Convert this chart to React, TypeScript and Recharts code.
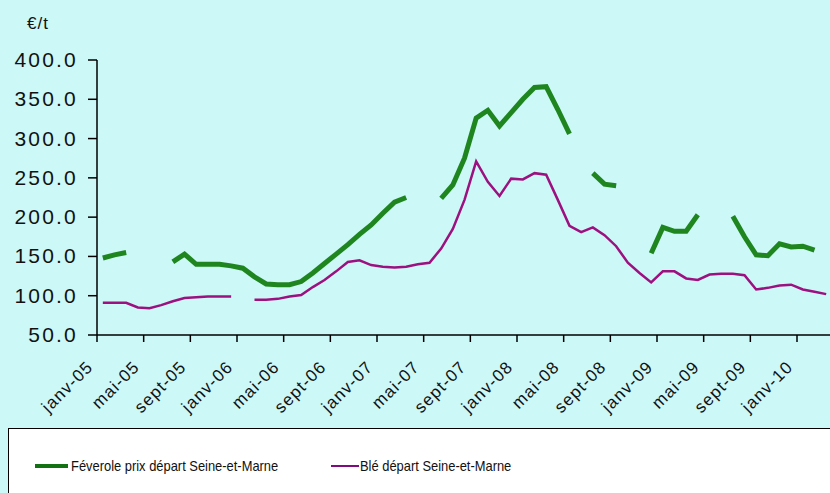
import { LineChart, Line, XAxis, YAxis } from 'recharts';

// mois de janv-05 à mars-10
const monthNames = ['janv', 'févr', 'mars', 'avr', 'mai', 'juin', 'juil', 'août', 'sept', 'oct', 'nov', 'déc'];
const years = ['05', '06', '07', '08', '09', '10'];
const categories = years.flatMap((y) => monthNames.map((m) => `${m}-${y}`)).slice(0, 63);

const tickLabels = [
  'janv-05', 'mai-05', 'sept-05', 'janv-06', 'mai-06', 'sept-06', 'janv-07', 'mai-07',
  'sept-07', 'janv-08', 'mai-08', 'sept-08', 'janv-09', 'mai-09', 'sept-09', 'janv-10',
];
const yTicks = [50, 100, 150, 200, 250, 300, 350, 400];

// €/t, null = pas de cotation
const feverole = [
  148, 152, 155, null, null, null, 143, 153, 140, 140, 140, 138,
  135, 124, 115, 114, 114, 118, 129, 141, 153, 165, 178, 190,
  205, 219, 225, null, null, 224, 241, 275, 326, 336, 316, 333,
  350, 365, 366, 337, 306, null, 256, 242, 240, null, null, 154,
  187, 182, 182, 203, null, null, 201, 175, 152, 151, 166, 162,
  163, 158, null,
];
const ble = [
  91, 91, 91, 85, 84, 88, 93, 97, 98, 99, 99, 99,
  null, 95, 95, 96, 99, 101, 111, 120, 131, 143, 145, 139,
  137, 136, 137, 140, 142, 160, 185, 222, 271, 245, 227, 249,
  248, 256, 254, 222, 189, 181, 187, 177, 163, 142, 129, 117,
  131, 131, 122, 120, 127, 128, 128, 126, 108, 110, 113, 114,
  108, 105, 102,
];

const data = categories.map((month, i) => ({
  month,
  x: i + 0.5,
  feverole: feverole[i],
  ble: ble[i],
}));

const tickPositions = tickLabels.map((_, i) => i * 4);

const BG = '#ccf8f8';
const GREEN = '#1f861f';
const PURPLE = '#9c117f';
const FONT = '"Liberation Sans", Arial, sans-serif';

function XTick(props: any) {
  const { x, y, payload } = props;
  const label = tickLabels[Math.round(payload.value / 4)];
  const tx = x - 3;
  const ty = y + 26;
  return (
    <text
      x={tx}
      y={ty}
      transform={`rotate(-45 ${tx} ${ty})`}
      textAnchor="end"
      fontSize={17}
      letterSpacing={1.2}
      fontFamily={FONT}
      fill="#111"
    >
      {label}
    </text>
  );
}

function YTick(props: any) {
  const { x, y, payload } = props;
  return (
    <text
      x={x}
      y={y}
      dy={7}
      textAnchor="end"
      fontSize={21}
      letterSpacing={2.2}
      fontFamily={FONT}
      fill="#111"
    >
      {payload.value.toFixed(1)}
    </text>
  );
}

const legendText = {
  position: 'absolute' as const,
  top: 28,
  fontSize: 15,
  transform: 'scaleX(0.86)',
  transformOrigin: 'left center',
  whiteSpace: 'nowrap' as const,
};

export default function App() {
  return (
    <div
      style={{
        position: 'absolute',
        left: 0,
        top: 0,
        width: 830,
        height: 493,
        overflow: 'hidden',
        background: BG,
        fontFamily: FONT,
      }}
    >
      <div style={{ position: 'absolute', left: 27, top: 14, fontSize: 17, letterSpacing: 1, color: '#111' }}>€/t</div>
      <div style={{ position: 'absolute', left: 0, top: 0 }}>
        <LineChart width={840} height={430} data={data} margin={{ top: 60, right: 8, left: 0, bottom: 0 }}>
          <XAxis
            type="number"
            dataKey="x"
            domain={[0, 63]}
            ticks={tickPositions}
            interval={0}
            height={95}
            tickSize={7}
            tickMargin={0}
            tick={<XTick />}
            axisLine={{ stroke: '#000', strokeWidth: 1.5 }}
            tickLine={{ stroke: '#000', strokeWidth: 1.5 }}
          />
          <YAxis
            type="number"
            domain={[50, 400]}
            ticks={yTicks}
            interval={0}
            width={97}
            tickSize={9}
            tickMargin={10}
            tick={<YTick />}
            axisLine={{ stroke: '#000', strokeWidth: 1.5 }}
            tickLine={{ stroke: '#000', strokeWidth: 1.5 }}
          />
          <Line
            type="linear"
            dataKey="feverole"
            name="Féverole prix départ Seine-et-Marne"
            stroke={GREEN}
            strokeWidth={5}
            dot={false}
            isAnimationActive={false}
          />
          <Line
            type="linear"
            dataKey="ble"
            name="Blé départ Seine-et-Marne"
            stroke={PURPLE}
            strokeWidth={2.5}
            dot={false}
            isAnimationActive={false}
          />
        </LineChart>
      </div>
      <div
        style={{
          position: 'absolute',
          left: 8,
          top: 428,
          width: 840,
          height: 80,
          background: '#fff',
          border: '1px solid #000',
          color: '#111',
        }}
      >
        <div style={{ position: 'absolute', left: 26, top: 35, width: 33, height: 4, background: '#137013' }} />
        <div style={{ ...legendText, left: 62 }}>Féverole prix départ Seine-et-Marne</div>
        <div style={{ position: 'absolute', left: 322, top: 36, width: 28, height: 2, background: '#800a80' }} />
        <div style={{ ...legendText, left: 351 }}>Blé départ Seine-et-Marne</div>
      </div>
    </div>
  );
}
